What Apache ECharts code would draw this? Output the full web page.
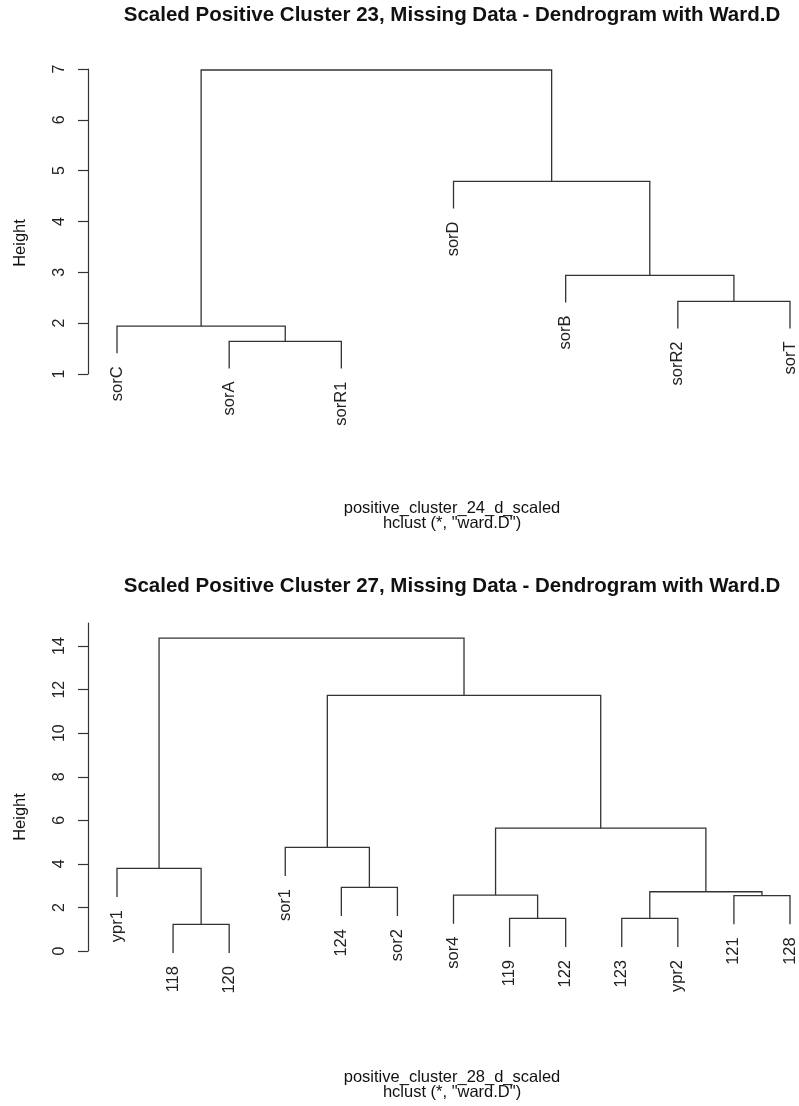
<!DOCTYPE html>
<html>
<head>
<meta charset="utf-8">
<script src="https://cdn.jsdelivr.net/npm/echarts@6/dist/echarts.min.js"></script>
<style>
  html, body { margin: 0; padding: 0; background: #fff; }
  #chart { width: 799px; height: 1106px; }
</style>
</head>
<body>
<div id="chart"></div>
<script>
// ---- Cluster 23 (upper dendrogram) ----
// leaves listed in plotting order; merge rows follow hclust's convention:
// negative entries are leaves (1-based position), positive entries refer to earlier merges
const topLabels = ['sorC', 'sorA', 'sorR1', 'sorD', 'sorB', 'sorR2', 'sorT'];
const topMerge = [[-2, -3], [-6, -7], [-1, 1], [-5, 2], [-4, 4], [3, 5]];
const topHeights = [1.64, 2.43, 1.94, 2.94, 4.79, 6.98];
const topTicks = [1, 2, 3, 4, 5, 6, 7];

// ---- Cluster 27 (lower dendrogram) ----
const botLabels = ['ypr1', '118', '120', 'sor1', '124', 'sor2', 'sor4', '119', '122', '123', 'ypr2', '121', '128'];
const botMerge = [[-2, -3], [-8, -9], [-10, -11], [-12, -13], [-7, 2], [3, 4], [-5, -6], [-1, 1], [-4, 7], [5, 6], [9, 10], [8, 11]];
const botHeights = [1.22, 1.50, 1.50, 2.54, 2.57, 2.72, 2.92, 3.79, 4.76, 5.64, 11.74, 14.37];
const botTicks = [0, 2, 4, 6, 8, 10, 12, 14];

const HANG = 0.1;
const FONT = '"Liberation Sans", Arial, sans-serif';
const INK = '#333';

// Turn a merge table into U-shaped links and leaf end points
function buildTree(labels, merge, heights) {
  const drop = HANG * (Math.max(...heights) - Math.min(...heights));
  const nodeX = [];
  const links = [];
  const leaves = [];
  merge.forEach((pair, i) => {
    const ends = pair.map(c => c < 0
      ? { x: -c, y: heights[i] - drop, leaf: -c }
      : { x: nodeX[c - 1], y: heights[c - 1] });
    nodeX[i] = (ends[0].x + ends[1].x) / 2;
    links.push([ends[0].x, ends[0].y, ends[1].x, ends[1].y, heights[i]]);
    ends.forEach(e => { if (e.leaf) leaves[e.leaf - 1] = [e.x, e.y]; });
  });
  return { links, leaves };
}

const topTree = buildTree(topLabels, topMerge, topHeights);
const botTree = buildTree(botLabels, botMerge, botHeights);

function linkSeries(idx, tree) {
  return {
    type: 'custom', xAxisIndex: idx, yAxisIndex: idx, clip: false, silent: true,
    data: tree.links,
    renderItem: function (params, api) {
      const a = api.coord([api.value(0), api.value(1)]);
      const b = api.coord([api.value(0), api.value(4)]);
      const c = api.coord([api.value(2), api.value(4)]);
      const d = api.coord([api.value(2), api.value(3)]);
      return {
        type: 'polyline',
        shape: { points: [a, b, c, d] },
        style: { stroke: INK, lineWidth: 1.3, fill: null }
      };
    }
  };
}

function leafSeries(idx, tree, labels) {
  return {
    type: 'custom', xAxisIndex: idx, yAxisIndex: idx, clip: false, silent: true,
    data: tree.leaves,
    renderItem: function (params, api) {
      const p = api.coord([api.value(0), api.value(1)]);
      return {
        type: 'text', x: p[0], y: p[1] + 13, rotation: Math.PI / 2,
        style: {
          text: labels[params.dataIndex], align: 'right', verticalAlign: 'middle',
          font: '16.5px ' + FONT, fill: '#222'
        }
      };
    }
  };
}

function yAxisDef(idx, min, max, ticks) {
  return {
    gridIndex: idx, type: 'value', min: min, max: max, offset: 29,
    axisLine: { show: true, lineStyle: { color: INK, width: 1.2 } },
    axisTick: { show: true, length: 10, lineStyle: { color: INK, width: 1.2 }, customValues: ticks },
    axisLabel: { rotate: 90, margin: 20, fontSize: 16, color: '#222', fontFamily: FONT, customValues: ticks },
    splitLine: { show: false }
  };
}

function xAxisDef(idx, n) {
  return { gridIndex: idx, type: 'value', min: 1, max: n, show: false };
}

function txt(x, y, s, font, rot) {
  return {
    type: 'text', x: x, y: y, rotation: rot || 0,
    style: { text: s, font: font, fill: '#111', align: 'center', verticalAlign: 'middle' }
  };
}

const chart = echarts.init(document.getElementById('chart'), null, { renderer: 'canvas' });
chart.setOption({
  animation: false,
  backgroundColor: '#fff',
  grid: [
    { left: 117, right: 9, top: 69, height: 305 },
    { left: 117, right: 9, top: 623, height: 328 }
  ],
  xAxis: [xAxisDef(0, topLabels.length), xAxisDef(1, botLabels.length)],
  yAxis: [yAxisDef(0, 1, 7, topTicks), yAxisDef(1, 0, 15.06, botTicks)],
  series: [
    linkSeries(0, topTree), leafSeries(0, topTree, topLabels),
    linkSeries(1, botTree), leafSeries(1, botTree, botLabels)
  ],
  graphic: [
    txt(452, 15, 'Scaled Positive Cluster 23, Missing Data - Dendrogram with Ward.D', 'bold 20.5px ' + FONT),
    txt(452, 508, 'positive_cluster_24_d_scaled', '16.5px ' + FONT),
    txt(452, 523, 'hclust (*, "ward.D")', '16.5px ' + FONT),
    txt(20, 243, 'Height', '16.5px ' + FONT, Math.PI / 2),
    txt(452, 586, 'Scaled Positive Cluster 27, Missing Data - Dendrogram with Ward.D', 'bold 20.5px ' + FONT),
    txt(452, 1077, 'positive_cluster_28_d_scaled', '16.5px ' + FONT),
    txt(452, 1092, 'hclust (*, "ward.D")', '16.5px ' + FONT),
    txt(20, 817, 'Height', '16.5px ' + FONT, Math.PI / 2)
  ]
});
</script>
</body>
</html>
